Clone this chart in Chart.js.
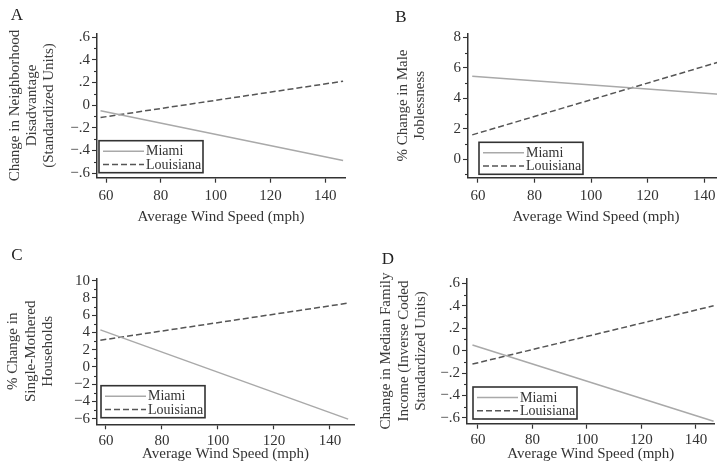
<!DOCTYPE html>
<html lang="en">
<head>
  <meta charset="UTF-8">
  <title>Wind Speed and Neighborhood Change</title>
  <script src="https://cdn.jsdelivr.net/npm/chart.js@4.4.0/dist/chart.umd.min.js"></script>
  <style>
    html, body { margin: 0; padding: 0; background: #fff; overflow: hidden; }
    body { width: 717px; height: 470px; position: relative; }
    canvas { position: absolute; }
  </style>
</head>
<body>
  <canvas id="panelA"></canvas>
  <canvas id="panelB"></canvas>
  <canvas id="panelC"></canvas>
  <canvas id="panelD"></canvas>
  <script>
    // data
    const windSpeed = [58, 146.5];
    const seriesNames = ['Miami', 'Louisiana'];

    const miamiA = [-0.05, -0.49];
    const louisianaA = [-0.11, 0.21];
    const miamiB = [5.45, 4.25];
    const louisianaB = [1.6, 6.45];
    const miamiC = [4.3, -6.05];
    const louisianaC = [3.1, 7.4];
    const miamiD = [0.05, -0.63];
    const louisianaD = [-0.12, 0.40];

    const xTicks = [60, 80, 100, 120, 140];
    const stdTicks = [-0.6, -0.4, -0.2, 0, 0.2, 0.4, 0.6];
    const stdTickLabels = ['−.6', '−.4', '−.2', '0', '.2', '.4', '.6'];
    const stdMinor = [-0.5, -0.3, -0.1, 0.1, 0.3, 0.5];
    const jobTicks = [0, 2, 4, 6, 8];
    const jobTickLabels = ['0', '2', '4', '6', '8'];
    const jobMinor = [-1, 1, 3, 5, 7];
    const momTicks = [-6, -4, -2, 0, 2, 4, 6, 8, 10];
    const momTickLabels = ['−6', '−4', '−2', '0', '2', '4', '6', '8', '10'];
    const momMinor = [-5, -3, -1, 1, 3, 5, 7, 9];

    const xTitle = 'Average Wind Speed (mph)';
    const titleA = ['Change in Neighborhood', 'Disadvantage', '(Standardized Units)'];
    const titleB = ['% Change in Male', 'Joblessness'];
    const titleC = ['% Change in', 'Single-Mothered', 'Households'];
    const titleD = ['Change in Median Family', 'Income (Inverse Coded', 'Standardized Units)'];

    const FONT = '"Liberation Serif", "DejaVu Serif", serif';
    const INK = '#333';

    const boxLegend = {
      id: 'boxLegend',
      afterDatasetsDraw(chart, args, opts) {
        const { ctx, chartArea } = chart;
        const x = chartArea.left + opts.dx;
        const y = chartArea.bottom - opts.dy - 32;
        ctx.save();
        ctx.fillStyle = '#fff';
        ctx.fillRect(x, y, 104, 32);
        ctx.strokeStyle = INK;
        ctx.lineWidth = 1.6;
        ctx.strokeRect(x, y, 104, 32);
        chart.data.datasets.forEach((ds, i) => {
          const ly = y + 10.5 + i * 13.2;
          ctx.strokeStyle = ds.borderColor;
          ctx.lineWidth = ds.borderWidth;
          ctx.setLineDash(ds.borderDash || []);
          ctx.beginPath();
          ctx.moveTo(x + 4, ly);
          ctx.lineTo(x + 45, ly);
          ctx.stroke();
          ctx.setLineDash([]);
          ctx.fillStyle = INK;
          ctx.font = '14px ' + FONT;
          ctx.textBaseline = 'middle';
          ctx.fillText(ds.label, x + 47, ly + 0.5);
        });
        ctx.restore();
      }
    };

    // short minor ticks on the y axis
    const minorTicks = {
      id: 'minorTicks',
      afterDraw(chart, args, opts) {
        const { ctx, scales } = chart;
        const y = scales.y;
        ctx.save();
        ctx.strokeStyle = INK;
        ctx.lineWidth = 1.1;
        opts.values.forEach(v => {
          const py = Math.round(y.getPixelForValue(v)) + 0.5;
          ctx.beginPath();
          ctx.moveTo(y.right - 3, py);
          ctx.lineTo(y.right, py);
          ctx.stroke();
        });
        ctx.restore();
      }
    };

    const panelLetter = {
      id: 'panelLetter',
      afterDraw(chart, args, opts) {
        const ctx = chart.ctx;
        ctx.save();
        ctx.fillStyle = '#222';
        ctx.font = '17px ' + FONT;
        ctx.textAlign = 'center';
        ctx.textBaseline = 'middle';
        ctx.fillText(opts.text, opts.x, opts.y);
        ctx.restore();
      }
    };

    function makePanel(p) {
      const cv = document.getElementById(p.id);
      cv.width = p.w; cv.height = p.h;
      cv.style.width = p.w + 'px'; cv.style.height = p.h + 'px';
      cv.style.left = p.left + 'px'; cv.style.top = p.top + 'px';
      new Chart(cv, {
        type: 'line',
        data: {
          datasets: [
            { label: seriesNames[0], data: windSpeed.map((w, i) => ({ x: w, y: p.miami[i] })),
              borderColor: '#a9a9a9', borderWidth: 1.5, pointRadius: 0, tension: 0 },
            { label: seriesNames[1], data: windSpeed.map((w, i) => ({ x: w, y: p.louisiana[i] })),
              borderColor: '#555', borderWidth: 1.5, borderDash: [6, 3], pointRadius: 0, tension: 0 }
          ]
        },
        options: {
          responsive: false,
          animation: false,
          layout: { padding: { left: 0, top: p.ca.t, right: p.w - p.ca.r, bottom: 0 } },
          plugins: {
            legend: { display: false },
            tooltip: { enabled: false },
            boxLegend: p.legend,
            panelLetter: p.letter,
            minorTicks: { values: p.minor }
          },
          scales: {
            x: {
              type: 'linear', min: p.xMin, max: p.xMax,
              afterBuildTicks: s => { s.ticks = xTicks.map(v => ({ value: v })); },
              afterFit: s => { s.height = p.h - p.ca.b; },
              border: { color: INK, width: 1.5 },
              grid: { drawOnChartArea: false, tickLength: 5, tickColor: INK, tickWidth: 1.2 },
              ticks: { autoSkip: false, maxRotation: 0, padding: p.xTickPad, color: INK,
                       font: { family: FONT, size: 15 } },
              title: { display: true, text: xTitle, color: INK, padding: { top: 0, bottom: p.xTitlePad },
                       font: { family: FONT, size: 15 } }
            },
            y: {
              type: 'linear', min: p.yMin, max: p.yMax,
              afterBuildTicks: s => { s.ticks = p.major.map(v => ({ value: v })); },
              afterFit: s => { s.width = p.ca.l; },
              border: { color: INK, width: 1.5 },
              grid: { drawOnChartArea: false, tickLength: 5, tickColor: INK, tickWidth: 1.1 },
              ticks: {
                autoSkip: false, padding: 2, color: INK, font: { family: FONT, size: 15 },
                callback: v => { const i = p.major.indexOf(v); return i >= 0 ? p.labels[i] : ''; }
              },
              title: { display: true, text: p.yTitle, color: '#3a3a3a', padding: { top: p.titlePad, bottom: 0 },
                       font: { family: FONT, size: 15, lineHeight: 1.15 } }
            }
          }
        },
        plugins: [boxLegend, minorTicks, panelLetter]
      });
    }

    makePanel({ id: 'panelA', left: 0, top: 0, w: 358, h: 235,
      ca: { l: 97, r: 345, t: 33.3, b: 177.7 }, xMin: 56.7, xMax: 147.2, yMin: -0.641, yMax: 0.633,
      miami: miamiA, louisiana: louisianaA, major: stdTicks, labels: stdTickLabels, minor: stdMinor,
      yTitle: titleA, titlePad: 6.4, xTickPad: 4, xTitlePad: 9,
      legend: { dx: 2, dy: 5 }, letter: { text: 'A', x: 17, y: 16 } });

    makePanel({ id: 'panelB', left: 358, top: 0, w: 372, h: 235,
      ca: { l: 110, r: 366, t: 33.3, b: 177.7 }, xMin: 56.5, xMax: 147, yMin: -1.21, yMax: 8.26,
      miami: miamiB, louisiana: louisianaB, major: jobTicks, labels: jobTickLabels, minor: jobMinor,
      yTitle: titleB, titlePad: 36.4, xTickPad: 4, xTitlePad: 9,
      legend: { dx: 11, dy: 3.4 }, letter: { text: 'B', x: 43, y: 17.5 } });

    makePanel({ id: 'panelC', left: 0, top: 235, w: 358, h: 235,
      ca: { l: 97, r: 354, t: 43.3, b: 189.3 }, xMin: 56.8, xMax: 148.6, yMin: -6.65, yMax: 10.28,
      miami: miamiC, louisiana: louisianaC, major: momTicks, labels: momTickLabels, minor: momMinor,
      yTitle: titleC, titlePad: 4.7, xTickPad: 2.5, xTitlePad: 7,
      legend: { dx: 4, dy: 6.6 }, letter: { text: 'C', x: 17, y: 20.5 } });

    makePanel({ id: 'panelD', left: 358, top: 235, w: 359, h: 235,
      ca: { l: 109, r: 356.7, t: 43.3, b: 188.7 }, xMin: 56.0, xMax: 146.9, yMin: -0.652, yMax: 0.645,
      miami: miamiD, louisiana: louisianaD, major: stdTicks, labels: stdTickLabels, minor: stdMinor,
      yTitle: titleD, titlePad: 19.7, xTickPad: 2.5, xTitlePad: 7,
      legend: { dx: 6, dy: 4.7 }, letter: { text: 'D', x: 30, y: 25 } });
  </script>
</body>
</html>
